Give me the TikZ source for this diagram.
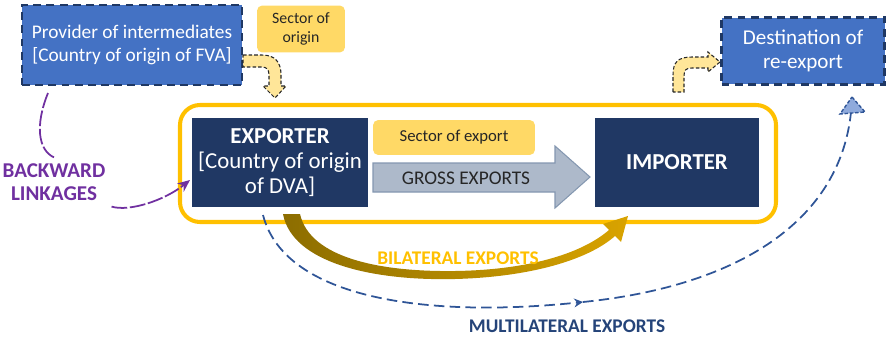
\documentclass[tikz,border=0pt]{standalone}
\usepackage{fontspec}
\setmainfont{Carlito}
\usetikzlibrary{arrows.meta}

\definecolor{provblue}{HTML}{4472C4}
\definecolor{navy}{HTML}{1F3864}
\definecolor{boxnavy}{HTML}{203864}
\definecolor{framegold}{HTML}{FFC000}
\definecolor{sectyellow}{HTML}{FFD966}
\definecolor{paleyellow}{HTML}{FFE699}
\definecolor{grossfill}{HTML}{ADB9CA}
\definecolor{grossline}{HTML}{8497B0}
\definecolor{backpurple}{HTML}{7030A0}
\definecolor{multiblue}{HTML}{2F5597}
\definecolor{headblue}{HTML}{8FAADC}
\definecolor{darkgold}{HTML}{8C6D00}
\definecolor{textgrey}{HTML}{262626}

\tikzset{
  countrybox/.style={fill=provblue, draw=navy, line width=1.2pt, dash pattern=on 4.5pt off 3pt,
    text=white, align=center, inner sep=0pt, font=\fontsize{11}{13}\selectfont},
  tradebox/.style={fill=boxnavy, text=white, align=center, inner sep=0pt,
    font=\fontsize{13}{14}\selectfont},
  sectorbox/.style={fill=sectyellow, rounded corners=3pt, text=textgrey, align=center,
    inner sep=0pt, font=\fontsize{9}{11}\selectfont},
  bentarrow/.style={fill=paleyellow, draw=textgrey, line width=0.6pt, dash pattern=on 2pt off 1.2pt},
  flowlabel/.style={font=\bfseries\fontsize{11}{13}\selectfont, align=center}
}

\begin{document}
\begin{tikzpicture}[x=0.02cm, y=-0.02cm]
        \useasboundingbox (0,0) rectangle (888,338);
        % partner boxes
        \node[countrybox, minimum width=4.4cm, minimum height=1.6cm] (prov) at (132,45)
          {Provider of intermediates\\{}[Country of origin of FVA]};
        \node[countrybox, minimum width=3.26cm, minimum height=1.34cm,
          font=\fontsize{12}{14}\selectfont] (dest) at (803,51)
          {Destination of\\re-export};
        \node[sectorbox, minimum width=1.76cm, minimum height=0.94cm] (origsec) at (301,29)
          {Sector of\\origin};
        % small bent arrows
        \draw[bentarrow] (243,55) -- (262,55) .. controls (275,55) and (281,62) .. (281,75)
          -- (281,86) -- (286,86) -- (275,98) -- (263,86) -- (269,86) -- (269,75)
          .. controls (269,70) and (267,67) .. (262,67) -- (243,67) -- cycle;
        \draw[bentarrow] (673,92) -- (673,75) .. controls (673,62) and (678,57) .. (692,57)
          -- (708,57) -- (708,52) -- (720,62) -- (708,72) -- (708,68) -- (692,68)
          .. controls (686,68) and (684,70) .. (684,76) -- (684,92) -- cycle;
        % the bilateral frame
        \draw[framegold, line width=2.3pt, rounded corners=0.4cm] (180,105) rectangle (776,222);
        \node[tradebox, minimum width=3.52cm, minimum height=1.78cm] (expo) at (280,162.5)
          {\textbf{EXPORTER}\\{}[Country of origin\\of DVA]};
        \node[tradebox, minimum width=3.28cm, minimum height=1.78cm] (impo) at (677,162.5)
          {\textbf{IMPORTER}};
        \node[sectorbox, minimum width=3.24cm, minimum height=0.7cm,
          font=\fontsize{9.5}{11}\selectfont] (expsec) at (454,137.5) {Sector of export};
        \fill[grossfill, draw=grossline, line width=0.6pt] (373,163) -- (555,163) -- (555,146)
          -- (590,177) -- (555,208) -- (555,192) -- (373,192) -- cycle;
        \node[text=textgrey, font=\fontsize{11}{13}\selectfont] (gross) at (466,178) {GROSS EXPORTS};
        % bilateral exports
        \shade[left color=darkgold, right color=framegold!85!black]
          (283,214) .. controls (292,262) and (370,281) .. (455,279)
          .. controls (530,277) and (588,260) .. (615,236) -- (621,242) -- (628,216)
          -- (603,224) -- (609,230) .. controls (580,255) and (525,270) .. (455,271)
          .. controls (380,272) and (310,258) .. (300,214) -- cycle;
        \node[flowlabel, text=framegold] (bilat) at (458,258) {BILATERAL EXPORTS};
        % multilateral exports
        \coordinate (mid) at (583,302);
        \coordinate (far) at (851,112);
        \draw[multiblue, line width=1pt, dash pattern=on 6pt off 3pt, -{Stealth[length=5pt,width=5pt]}]
          (263,215) .. controls (285,300) and (430,318) .. (mid);
        \draw[multiblue, line width=1pt, dash pattern=on 6pt off 3pt]
          (mid) .. controls (740,286) and (840,220) .. (far);
        \draw[fill=headblue, draw=multiblue, line width=0.8pt, dash pattern=on 2pt off 1pt]
          (852,97) -- (865,112) -- (840,114) -- cycle;
        \node[flowlabel, text=multiblue!80!black] (multi) at (567,326) {MULTILATERAL EXPORTS};
        % backward linkages
        \node[flowlabel, text=backpurple, font=\bfseries\fontsize{12}{13}\selectfont]
          (back) at (54,182) {BACKWARD\\LINKAGES};
        \draw[backpurple, line width=1pt, dash pattern=on 9pt off 1.5pt]
          (48,93) .. controls (35,125) and (38,150) .. (back.north);
        \draw[backpurple, line width=1pt, dash pattern=on 9pt off 1.5pt, -{Stealth[length=7pt,width=6pt]}]
          (back.south east) .. controls (130,212) and (165,200) .. (190,180);
\end{tikzpicture}
\end{document}
